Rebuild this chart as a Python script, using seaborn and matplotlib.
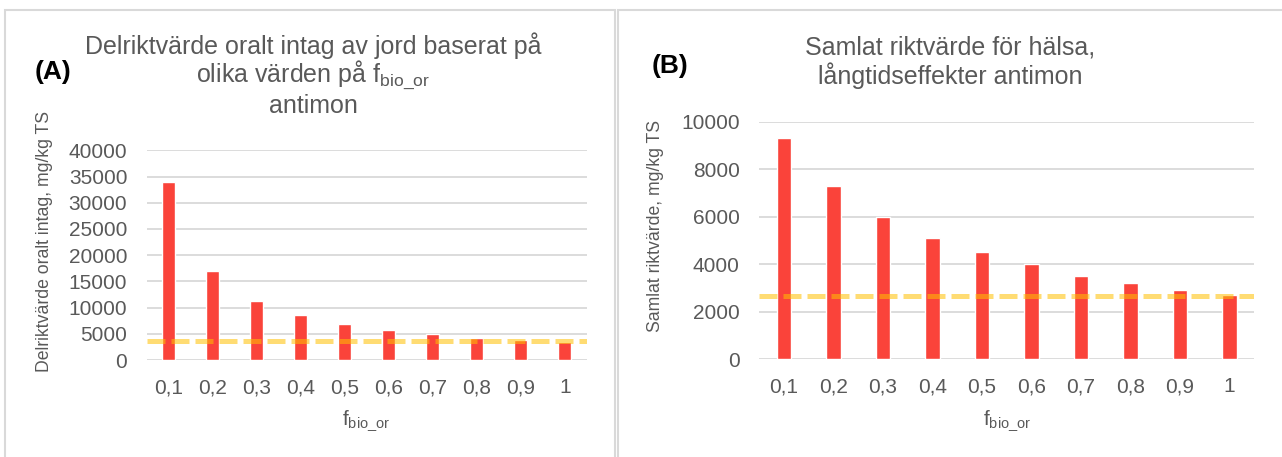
import matplotlib
matplotlib.use("Agg")
import matplotlib.pyplot as plt
from matplotlib.patches import Rectangle
import seaborn as sns

# data
f_bio_or = ["0,1", "0,2", "0,3", "0,4", "0,5", "0,6", "0,7", "0,8", "0,9", "1"]
delrikt_oralt = [34000, 17000, 11300, 8500, 6800, 5700, 4900, 4250, 3800, 3400]
samlat_rikt = [9300, 7300, 6000, 5100, 4500, 4000, 3500, 3200, 2900, 2700]
ref_line_a = 3600
ref_line_b = 2650

sns.set_theme(style="white")
plt.rcParams["font.family"] = ["Liberation Sans", "DejaVu Sans"]
plt.rcParams["mathtext.fontset"] = "custom"
plt.rcParams["mathtext.rm"] = "Liberation Sans"

TXT = "#595959"
GRID = "#D9D9D9"
BAR = "#FA433A"
DASH = "#FFC000"
FLB = r"$\mathregular{f_{bio\_or}}$"

W, H = 1282, 457
fig = plt.figure(figsize=(W / 100, H / 100), dpi=100)

# panel frames
fig.patches.append(Rectangle((5 / W, -0.1), 610 / W, 1.1 - 10 / H, transform=fig.transFigure,
                             fill=False, edgecolor=GRID, lw=1.5))
fig.patches.append(Rectangle((618 / W, -0.1), 700 / W, 1.1 - 10 / H, transform=fig.transFigure,
                             fill=False, edgecolor=GRID, lw=1.5))


def bar_panel(ax, values, ref, yticks):
    sns.barplot(x=f_bio_or, y=values, color=BAR, saturation=1, width=0.3, ax=ax, zorder=2)
    ax.axhline(ref, color=DASH, alpha=0.55, lw=3.6, ls=(0, (3.6, 1.2)), zorder=3)
    ax.set_xlim(-0.5, len(f_bio_or) - 0.5)
    ax.set_ylim(yticks[0], yticks[-1])
    ax.set_yticks(yticks)
    ax.yaxis.grid(True, color=GRID, lw=1.3)
    ax.set_axisbelow(True)
    for s in ax.spines.values():
        s.set_visible(False)
    ax.tick_params(axis="both", length=0, labelsize=15, labelcolor=TXT)
    ax.tick_params(axis="x", pad=13)
    ax.tick_params(axis="y", pad=14)
    ax.set_xlabel("")
    ax.set_ylabel("")


axA = fig.add_axes([146.7 / W, 1 - 360 / H, 440 / W, 209.6 / H])
bar_panel(axA, delrikt_oralt, ref_line_a, list(range(0, 40001, 5000)))
axB = fig.add_axes([759.3 / W, 1 - 359.3 / H, 495 / W, 237.6 / H])
bar_panel(axB, samlat_rikt, ref_line_b, list(range(0, 10001, 2000)))

# axis labels
fig.text(45 / W, 1 - 241.5 / H, "Delriktvärde oralt intag, mg/kg TS", rotation=90,
         ha="center", va="center", fontsize=12.7, color=TXT)
fig.text(655 / W, 1 - 226.5 / H, "Samlat riktvärde, mg/kg TS", rotation=90,
         ha="center", va="center", fontsize=12.7, color=TXT)
fig.text(366.7 / W, 1 - 421 / H, FLB, ha="center", va="center", fontsize=15, color=TXT)
fig.text(1006.8 / W, 1 - 421 / H, FLB, ha="center", va="center", fontsize=15, color=TXT)

# titles, centred in each panel frame
cxA, cxB = 313 / W, 950 / W
for txt, y in [("Delriktvärde oralt intag av jord baserat på", 46),
               ("olika värden på " + FLB, 75),
               ("antimon", 106)]:
    fig.text(cxA, 1 - y / H, txt, ha="center", va="center", fontsize=18, color=TXT)
for txt, y in [("Samlat riktvärde för hälsa,", 47), ("långtidseffekter antimon", 76)]:
    fig.text(cxB, 1 - y / H, txt, ha="center", va="center", fontsize=18, color=TXT)

fig.text(35 / W, 1 - 72 / H, "(A)", ha="left", va="center", fontsize=19, fontweight="bold", color="black")
fig.text(652 / W, 1 - 66 / H, "(B)", ha="left", va="center", fontsize=19, fontweight="bold", color="black")

fig.savefig("out.png", dpi=100)
